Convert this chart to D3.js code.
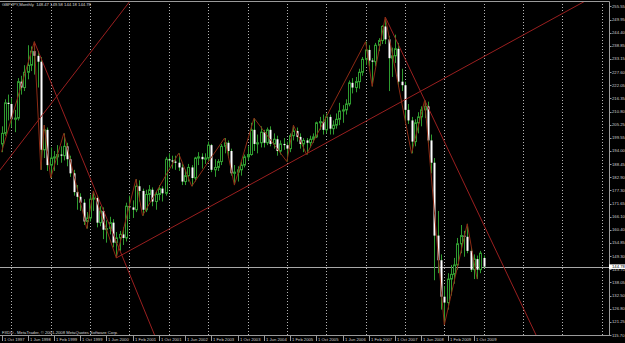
<!DOCTYPE html>
<html>
<head>
<meta charset="utf-8">
<script src="https://cdn.jsdelivr.net/npm/d3@7"></script>
<style>
  body { margin: 0; background: #000; }
  svg { display: block; }
  text { font-family: "Liberation Sans", Arial, sans-serif; }
</style>
</head>
<body>
<svg width="625" height="343"></svg>
<script>
// GBPJPY monthly bars, first bar = 1 Oct 1997
const firstMonth = new Date(1997, 9, 1);

const open = [
  197.0, 201.5, 214.5, 214.0, 207.5, 208.0, 223.5, 221.0, 227.5, 230.5, 236.5, 234.5,
  232.0, 194.5, 203.0, 188.0, 191.0, 191.5, 192.5, 192.0, 196.0, 190.5, 184.5, 176.5,
  174.5, 172.0, 164.0, 165.5, 173.5, 174.0, 163.5, 168.5, 160.5, 161.0, 163.5, 155.0,
  157.0, 158.5, 157.0, 170.5, 170.0, 169.0, 179.0, 177.0, 169.0, 175.5, 177.5, 172.5,
  175.5, 178.0, 176.0, 190.5, 190.0, 189.5, 189.0, 187.0, 181.0, 183.5, 187.0, 182.5,
  191.0, 191.5, 190.5, 191.0, 196.5, 186.0, 187.0, 189.5, 196.0, 197.5, 194.0, 184.5,
  185.0, 186.0, 188.0, 191.5, 192.5, 203.0, 197.0, 197.5, 202.0, 197.5, 203.0, 197.0,
  199.0, 194.0, 197.0, 196.5, 195.0, 200.5, 202.5, 200.0, 197.0, 198.5, 197.5, 199.0,
  200.0, 206.0, 206.5, 203.0, 208.5, 203.5, 205.0, 207.5, 211.0, 211.5, 214.0, 223.0,
  221.0, 223.5, 227.5, 233.0, 237.0, 232.5, 232.0, 239.0, 241.0, 247.0, 241.5, 233.5,
  234.5, 237.5, 223.5, 222.0, 211.5, 207.0, 198.0, 206.0, 208.5, 211.5, 213.0, 198.5,
  189.0, 158.0, 147.5, 132.0, 129.5, 139.5, 141.5, 145.5, 154.5, 158.0, 157.5, 151.5,
  143.5, 148.0, 143.5, 148.47
];
const high = [
  204.5, 216.0, 218.0, 216.5, 211.5, 225.0, 226.0, 230.5, 239.0, 238.5, 240.5, 236.5,
  234.0, 205.0, 204.0, 195.5, 194.0, 196.5, 196.0, 201.5, 197.5, 192.0, 186.0, 179.5,
  176.0, 173.5, 168.0, 175.5, 177.0, 175.0, 170.5, 170.0, 164.5, 166.0, 165.0, 159.5,
  160.0, 161.5, 172.0, 175.0, 173.0, 182.0, 181.5, 178.0, 177.5, 179.5, 178.5, 177.0,
  179.5, 179.0, 191.5, 193.0, 192.0, 192.0, 193.0, 188.5, 186.0, 188.5, 188.0, 191.5,
  193.5, 193.0, 193.0, 198.0, 197.0, 190.5, 190.5, 197.0, 199.5, 198.5, 195.0, 188.0,
  187.5, 189.5, 192.5, 196.0, 206.0, 208.0, 201.0, 204.5, 203.0, 204.0, 204.5, 201.5,
  200.5, 198.5, 199.5, 198.0, 201.5, 205.0, 204.0, 201.5, 199.5, 199.5, 200.5, 201.5,
  206.5, 208.5, 209.5, 210.0, 209.5, 207.0, 210.0, 214.5, 213.5, 216.0, 224.0, 225.0,
  225.5, 229.0, 234.0, 240.5, 239.0, 233.5, 240.0, 242.0, 247.5, 251.0, 243.0, 238.0,
  243.5, 240.0, 229.0, 223.5, 214.0, 208.5, 207.5, 210.5, 213.0, 215.5, 215.0, 201.0,
  191.0, 168.5, 150.0, 136.5, 142.0, 145.5, 148.5, 157.0, 162.5, 160.0, 163.0, 153.0,
  150.0, 149.5, 151.5, 149.58
];
const low = [
  193.5, 200.5, 207.0, 204.0, 202.0, 207.0, 218.0, 219.5, 224.5, 228.0, 226.5, 221.0,
  186.0, 191.0, 185.5, 182.5, 185.5, 188.0, 189.0, 190.0, 187.5, 183.0, 175.0, 169.0,
  168.5, 162.5, 161.0, 164.0, 168.5, 161.5, 162.0, 156.5, 155.0, 158.5, 153.0, 148.5,
  151.5, 154.0, 155.5, 165.0, 165.5, 168.0, 172.5, 166.5, 168.0, 172.5, 170.5, 169.0,
  173.0, 172.5, 175.0, 187.0, 186.5, 186.0, 185.5, 179.5, 179.5, 181.0, 179.0, 181.0,
  188.0, 186.5, 188.5, 189.5, 185.0, 183.0, 185.5, 188.0, 193.0, 191.0, 183.5, 179.5,
  181.0, 183.5, 187.0, 190.0, 192.0, 194.0, 193.0, 195.5, 195.5, 196.5, 196.0, 195.0,
  192.0, 192.5, 194.5, 189.5, 193.5, 198.5, 198.0, 195.0, 193.5, 192.5, 195.5, 197.5,
  199.5, 203.0, 201.0, 201.5, 201.0, 201.0, 203.5, 205.0, 206.0, 209.5, 213.0, 218.5,
  219.0, 220.5, 226.0, 230.5, 230.0, 221.5, 230.0, 236.5, 239.5, 239.5, 219.5, 225.5,
  231.5, 221.5, 219.5, 206.0, 205.5, 193.0, 196.0, 201.5, 204.5, 208.0, 197.5, 184.5,
  139.0, 142.0, 126.5, 120.0, 126.5, 132.5, 137.5, 143.5, 150.5, 149.0, 150.5, 142.5,
  139.5, 139.5, 142.0, 144.18
];
const close = [
  201.5, 214.5, 214.0, 207.5, 208.0, 223.5, 221.0, 227.5, 230.5, 236.5, 234.5, 232.0,
  194.5, 203.0, 188.0, 191.0, 191.5, 192.5, 192.0, 196.0, 190.5, 184.5, 176.5, 174.5,
  172.0, 164.0, 165.5, 173.5, 174.0, 163.5, 168.5, 160.5, 161.0, 163.5, 155.0, 157.0,
  158.5, 157.0, 170.5, 170.0, 169.0, 179.0, 177.0, 169.0, 175.5, 177.5, 172.5, 175.5,
  178.0, 176.0, 190.5, 190.0, 189.5, 189.0, 187.0, 181.0, 183.5, 187.0, 182.5, 191.0,
  191.5, 190.5, 191.0, 196.5, 186.0, 187.0, 189.5, 196.0, 197.5, 194.0, 184.5, 185.0,
  186.0, 188.0, 191.5, 192.5, 203.0, 197.0, 197.5, 202.0, 197.5, 203.0, 197.0, 199.0,
  194.0, 197.0, 196.5, 195.0, 200.5, 202.5, 200.0, 197.0, 198.5, 197.5, 199.0, 200.0,
  206.0, 206.5, 203.0, 208.5, 203.5, 205.0, 207.5, 211.0, 211.5, 214.0, 223.0, 221.0,
  223.5, 227.5, 233.0, 237.0, 232.5, 232.0, 239.0, 241.0, 247.0, 241.5, 233.5, 234.5,
  237.5, 223.5, 222.0, 211.5, 207.0, 198.0, 206.0, 208.5, 211.5, 213.0, 198.5, 189.0,
  158.0, 147.5, 132.0, 129.5, 139.5, 141.5, 145.5, 154.5, 158.0, 157.5, 151.5, 143.5,
  148.0, 143.5, 150.5, 144.78
];

// right price scale labels
const priceTicks = [
  115.70, 121.25, 126.80, 132.50, 138.05, 143.70, 149.30, 154.85, 160.40, 166.10,
  171.65, 177.30, 182.90, 188.45, 194.00, 199.55, 205.25, 210.80, 216.35, 222.05,
  227.60, 233.15, 238.85, 244.40, 249.95, 255.55
];

// ZigZag turning points: [bar index, price]
const zigzag = [
  [0, 193.5], [10, 240.5], [12, 186.0], [13, 205.0], [15, 182.5], [19, 201.5],
  [26, 161.0], [28, 177.0], [35, 148.5], [41, 182.0], [43, 166.5], [54, 193.0],
  [58, 179.0], [68, 199.5], [71, 179.5], [77, 208.0], [87, 189.5], [89, 205.0],
  [93, 192.5], [111, 240.5], [113, 221.5], [117, 251.0], [125, 193.0], [129, 215.5],
  [135, 120.0], [142, 163.0], [145, 139.5]
];

// trend lines: two anchor points each [bar index, price], drawn as rays
const trendFrom = [[-1, 184.9], [10, 240.5], [35, 148.5], [117, 251.0]];
const trendTo   = [[34, 248.4], [36, 152.0], [100, 198.2], [140, 183.3]];

const symbol = "GBPJPY,Monthly";
const copyright = "FXDD - MetaTrader, \u00a9 2001-2008 MetaQuotes Software Corp.";

const W = 625, H = 343;
const plotRight = 609, plotBottom = 336, plotTop = 1;
const green = "#2f9b2f", lineRed = "#9a1f1f", zigColor = "#8c2a14";

const svg = d3.select("svg");
svg.append("rect").attr("width", W).attr("height", H).attr("fill", "#000");

const x = d3.scaleLinear().domain([0, 147]).range([1.5, 483.66]);
const y = d3.scaleLinear().domain([115.70, 255.55]).range([335, 6.35]);
const px = i => Math.round(x(i)) + 0.5;

svg.append("clipPath").attr("id", "plot")
  .append("rect").attr("x", 0).attr("y", plotTop).attr("width", plotRight).attr("height", plotBottom - plotTop);

const plot = svg.append("g").attr("clip-path", "url(#plot)");

// dotted vertical grid, one per year (January bars)
const gridIdx = d3.range(3, 200, 12).filter(i => x(i) < plotRight);
plot.selectAll("line.grid").data(gridIdx).enter().append("line")
  .attr("class", "grid")
  .attr("x1", px).attr("x2", px)
  .attr("y1", plotTop).attr("y2", plotBottom)
  .attr("stroke", "#b4b4b4").attr("stroke-dasharray", "1,2");

// bid line
const lastClose = close[close.length - 1];
plot.append("line")
  .attr("x1", 0).attr("x2", plotRight)
  .attr("y1", Math.round(y(lastClose)) + 0.5).attr("y2", Math.round(y(lastClose)) + 0.5)
  .attr("stroke", "#a8a8a8");

// candles
const bars = d3.range(open.length);
plot.selectAll("line.wick").data(bars).enter().append("line")
  .attr("class", "wick")
  .attr("x1", px).attr("x2", px)
  .attr("y1", i => y(high[i])).attr("y2", i => y(low[i]))
  .attr("stroke", green);

plot.selectAll("rect.body").data(bars).enter().append("rect")
  .attr("class", "body")
  .attr("x", i => px(i) - 1)
  .attr("width", 2)
  .attr("y", i => y(Math.max(open[i], close[i])))
  .attr("height", i => Math.max(Math.abs(y(open[i]) - y(close[i])), 0.8))
  .attr("fill", i => close[i] >= open[i] ? "#000" : "#fff")
  .attr("stroke", i => close[i] >= open[i] ? green : "none");

// trend lines (rays) and zigzag
trendFrom.forEach((a, k) => {
  const b = trendTo[k];
  const slope = (b[1] - a[1]) / (b[0] - a[0]);
  const far = 220;
  plot.append("line")
    .attr("x1", x(a[0])).attr("y1", y(a[1]))
    .attr("x2", x(far)).attr("y2", y(a[1] + slope * (far - a[0])))
    .attr("stroke", lineRed).attr("stroke-width", 1);
});

plot.append("path")
  .datum(zigzag)
  .attr("d", d3.line().x(d => x(d[0])).y(d => y(d[1])))
  .attr("fill", "none").attr("stroke", zigColor).attr("stroke-width", 1);

// frame
svg.append("path")
  .attr("d", `M0,${plotTop + 0.5}H${plotRight + 0.5}V${plotBottom - 0.5}H0`)
  .attr("fill", "none").attr("stroke", "#9a9a9a");

// price axis
svg.selectAll("line.ptick").data(priceTicks).enter().append("line")
  .attr("x1", plotRight).attr("x2", plotRight + 2.5)
  .attr("y1", d => Math.round(y(d)) + 0.5).attr("y2", d => Math.round(y(d)) + 0.5)
  .attr("stroke", "#9a9a9a");
svg.selectAll("text.price").data(priceTicks).enter().append("text")
  .attr("x", plotRight + 3).attr("y", d => y(d) + 1.5)
  .attr("font-size", 4.2).attr("fill", "#d0d0d0")
  .text(d => d3.format(".2f")(d));

// current price box (covers the tick label beneath it, as in the terminal)
const bidG = svg.append("g");
bidG.append("rect")
  .attr("x", plotRight).attr("y", y(lastClose) - 2.3)
  .attr("width", W - plotRight).attr("height", 4.6).attr("fill", "#fff");
bidG.append("text")
  .attr("x", plotRight + 3).attr("y", y(lastClose) + 1.4)
  .attr("font-size", 4.2).attr("fill", "#000")
  .text(d3.format(".2f")(lastClose));

// time axis every 8 bars
const fmt = d3.timeFormat("%-d %b %Y");
const timeIdx = d3.range(0, open.length, 8);
svg.selectAll("line.ttick").data(timeIdx).enter().append("line")
  .attr("x1", px).attr("x2", px)
  .attr("y1", plotBottom).attr("y2", plotBottom + 5)
  .attr("stroke", "#9a9a9a");
svg.selectAll("text.time").data(timeIdx).enter().append("text")
  .attr("x", i => px(i) + 1.5).attr("y", plotBottom + 4.6)
  .attr("font-size", 4.2).attr("fill", "#d0d0d0")
  .text(i => fmt(d3.timeMonth.offset(firstMonth, i)));

// header and copyright
const last = open.length - 1;
svg.append("text")
  .attr("x", 2).attr("y", 5.8)
  .attr("font-size", 4.2).attr("fill", "#d8d8d8")
  .attr("xml:space", "preserve")
  .text(`${symbol}  ${[open[last], high[last], low[last], close[last]].map(d3.format(".2f")).join(" ")}`);
svg.append("text")
  .attr("x", 2).attr("y", 334)
  .attr("font-size", 4.2).attr("fill", "#d8d8d8")
  .text(copyright);
</script>
</body>
</html>
